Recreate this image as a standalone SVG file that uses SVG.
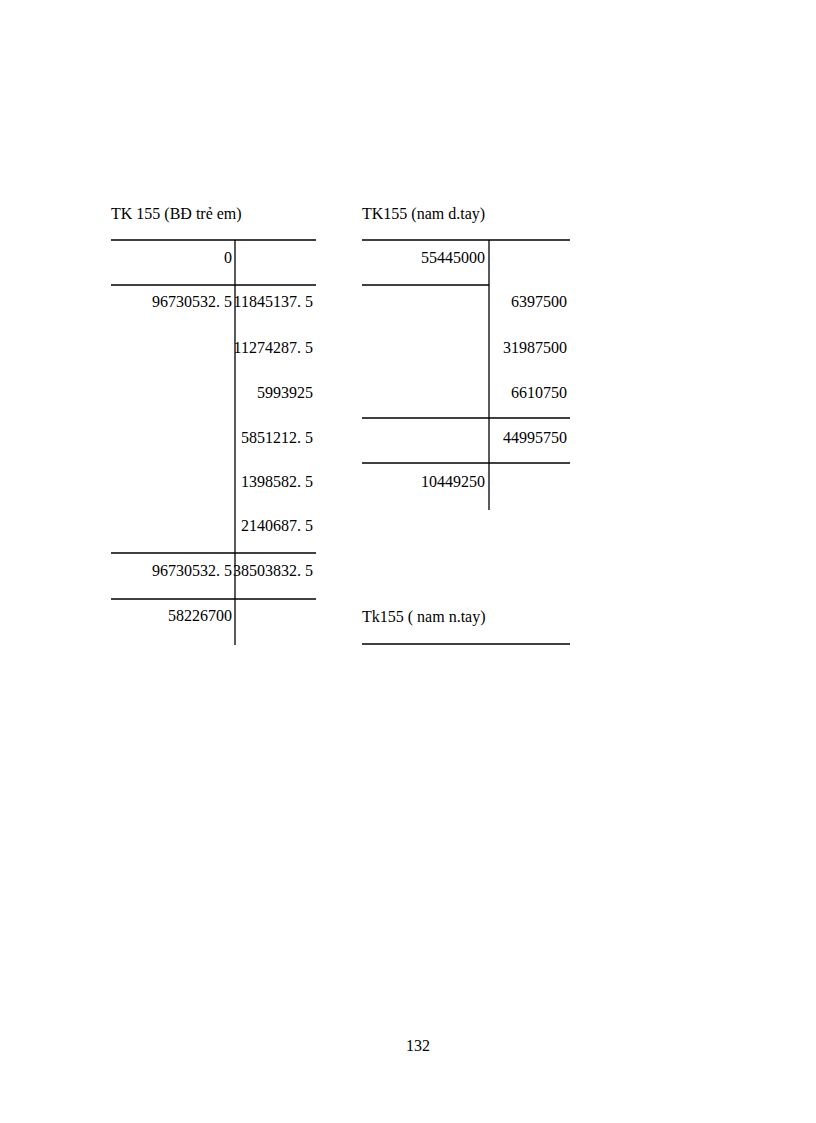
<svg xmlns="http://www.w3.org/2000/svg" width="816" height="1123" viewBox="0 0 816 1123">
<style>
text{font-family:"Liberation Serif","Times New Roman",serif;font-size:16px;fill:#000}
.r{text-anchor:end}
line{stroke:#000;stroke-width:1.3}
</style>
<rect width="816" height="1123" fill="#fff"/>
<g id="tk-bd-tre-em">
<text x="111" y="219">TK 155 (BĐ trẻ em)</text>
<line x1="111" y1="240" x2="316" y2="240"/>
<line x1="235" y1="240" x2="235" y2="645"/>
<line x1="111" y1="285" x2="316" y2="285"/>
<line x1="111" y1="553" x2="316" y2="553"/>
<line x1="111" y1="599" x2="316" y2="599"/>
<text class="r" x="232" y="263">0</text>
<text class="r" x="232" y="307">96730532. 5</text>
<text class="r" x="313" y="307">11845137. 5</text>
<text class="r" x="313" y="353">11274287. 5</text>
<text class="r" x="313" y="398">5993925</text>
<text class="r" x="313" y="443">5851212. 5</text>
<text class="r" x="313" y="487">1398582. 5</text>
<text class="r" x="313" y="531">2140687. 5</text>
<text class="r" x="232" y="576">96730532. 5</text>
<text class="r" x="313" y="576">38503832. 5</text>
<text class="r" x="232" y="621">58226700</text>
</g>
<g id="tk-nam-dtay">
<text x="362" y="219">TK155 (nam d.tay)</text>
<line x1="362" y1="240" x2="570" y2="240"/>
<line x1="489" y1="240" x2="489" y2="510"/>
<line x1="362" y1="285" x2="489" y2="285"/>
<line x1="362" y1="418" x2="570" y2="418"/>
<line x1="362" y1="463" x2="570" y2="463"/>
<text class="r" x="485" y="263">55445000</text>
<text class="r" x="567" y="307">6397500</text>
<text class="r" x="567" y="353">31987500</text>
<text class="r" x="567" y="398">6610750</text>
<text class="r" x="567" y="443">44995750</text>
<text class="r" x="485" y="487">10449250</text>
</g>
<g id="tk-nam-ntay">
<text x="362" y="622">Tk155 ( nam n.tay)</text>
<line x1="362" y1="644" x2="570" y2="644"/>
</g>
<g id="connectors"></g>
<text x="418" y="1051" text-anchor="middle">132</text>
</svg>
